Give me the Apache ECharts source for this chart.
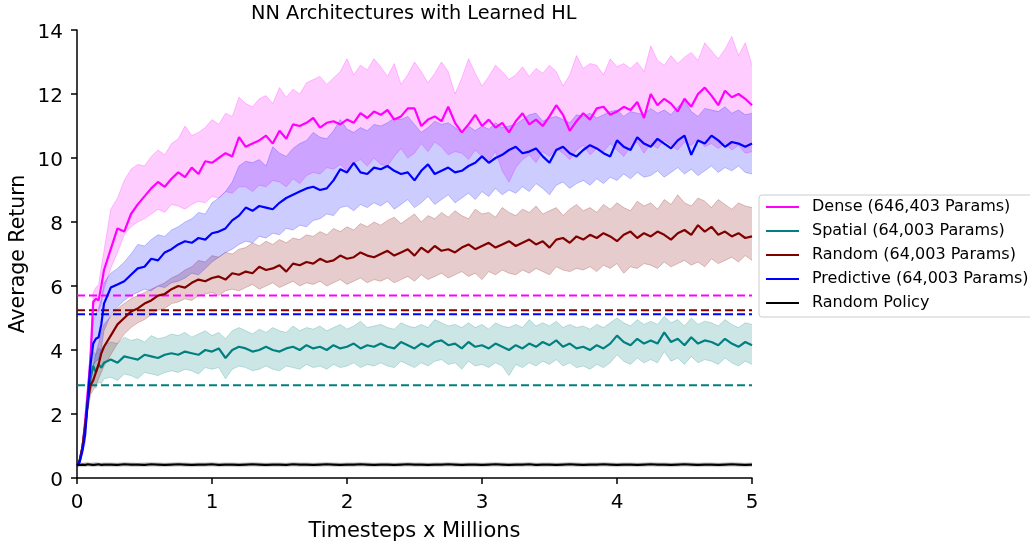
<!DOCTYPE html>
<html>
<head>
<meta charset="utf-8">
<script src="https://cdn.jsdelivr.net/npm/echarts@6/dist/echarts.min.js"></script>
<style>
html,body{margin:0;padding:0;background:#fff;}
#chart{width:1030px;height:542px;}
</style>
</head>
<body>
<div id="chart"></div>
<script>
// x positions (millions of timesteps)
const xs = [0,0.02,0.04,0.06,0.08,0.10,0.12,0.14,0.16,0.18,0.20,
0.25,0.30,0.35,0.40,0.45,0.50,0.55,0.60,0.65,0.70,
0.75,0.80,0.85,0.90,0.95,1.00,1.05,1.10,1.15,1.20,
1.25,1.30,1.35,1.40,1.45,1.50,1.55,1.60,1.65,1.70,
1.75,1.80,1.85,1.90,1.95,2.00,2.05,2.10,2.15,2.20,
2.25,2.30,2.35,2.40,2.45,2.50,2.55,2.60,2.65,2.70,
2.75,2.80,2.85,2.90,2.95,3.00,3.05,3.10,3.15,3.20,
3.25,3.30,3.35,3.40,3.45,3.50,3.55,3.60,3.65,3.70,
3.75,3.80,3.85,3.90,3.95,4.00,4.05,4.10,4.15,4.20,
4.25,4.30,4.35,4.40,4.45,4.50,4.55,4.60,4.65,4.70,
4.75,4.80,4.85,4.90,4.95,5.00];

const xTicks = [0,1,2,3,4,5];
const yTicks = [0,2,4,6,8,10,12,14];

const seriesNames = ['Dense (646,403 Params)','Spatial (64,003 Params)','Random (64,003 Params)','Predictive (64,003 Params)','Random Policy'];
const seriesColors = ['#ff00ff','#008080','#800000','#0000ff','#000000'];

const denseMean = [0.40,0.55,0.95,1.75,2.70,3.70,5.50,5.60,5.55,6.00,6.50,
7.15,7.80,7.70,8.25,8.55,8.80,9.05,9.25,9.10,9.35,
9.55,9.40,9.70,9.50,9.90,9.85,10.00,10.15,10.05,10.65,
10.35,10.45,10.55,10.70,10.45,10.85,10.60,11.05,11.00,11.10,
11.25,10.95,11.10,11.15,11.05,11.20,11.10,11.40,11.25,11.45,
11.35,11.50,11.20,11.30,11.55,11.55,11.00,11.20,11.30,11.15,
11.60,11.10,10.80,11.05,11.35,11.00,11.20,10.95,11.10,10.80,
11.15,11.40,11.05,11.20,11.00,11.30,11.65,11.35,10.85,11.15,
11.40,11.20,11.55,11.60,11.35,11.45,11.60,11.50,11.75,11.25,
12.00,11.65,11.85,11.70,11.45,11.85,11.60,12.00,12.20,11.95,
11.65,12.10,11.90,12.00,11.85,11.65];
const denseUpper = [0.40,0.60,1.05,1.95,2.95,4.10,5.80,5.95,6.05,6.60,7.10,
8.40,8.75,9.30,9.65,9.80,9.75,10.05,10.25,10.10,10.45,
10.60,11.00,10.70,10.80,10.95,11.20,11.05,11.40,11.30,11.90,
11.70,11.60,11.85,11.95,11.70,12.20,11.90,12.15,12.00,12.35,
12.45,12.55,12.30,12.50,12.70,13.10,12.60,12.90,12.75,13.10,
12.85,12.55,12.95,12.30,12.60,13.00,12.70,12.35,12.65,13.00,
12.70,12.00,12.50,13.10,12.65,12.25,12.55,12.90,12.70,12.45,
12.60,12.85,12.55,12.80,12.65,12.90,12.70,12.25,12.60,13.20,
12.80,12.95,12.90,12.60,13.10,12.85,12.95,12.80,13.00,12.70,
13.50,13.05,12.90,13.20,12.95,13.15,13.30,13.05,13.60,13.35,
13.10,13.40,13.80,13.20,13.60,12.90];
const denseLower = [0.40,0.50,0.85,1.55,2.45,3.30,5.20,5.30,5.20,5.45,5.90,
6.55,7.05,7.60,7.85,8.00,8.10,8.25,8.40,8.30,8.55,
8.50,8.40,8.55,8.65,8.60,8.80,8.75,8.95,8.90,9.10,
9.10,8.95,9.15,9.10,9.30,9.25,9.10,9.35,9.20,9.45,
9.55,9.50,9.70,9.65,9.80,9.60,9.85,9.95,9.75,10.00,
9.80,9.75,10.05,10.30,10.00,10.15,10.45,10.20,10.50,10.35,
10.10,10.20,10.15,9.95,10.25,10.05,9.90,10.20,9.60,9.25,
9.70,9.95,10.10,9.85,10.20,10.05,10.30,10.15,9.95,10.25,
10.40,10.10,10.30,10.20,10.45,10.25,10.05,10.35,10.50,10.15,
10.45,10.30,10.55,10.40,10.25,10.50,10.40,10.60,10.35,10.45,
10.30,10.45,10.25,10.40,10.15,10.20];

const spatialMean = [0.40,0.55,0.95,1.60,2.40,3.10,3.50,3.30,3.55,3.45,3.60,
3.70,3.60,3.80,3.75,3.70,3.85,3.80,3.75,3.85,3.90,
3.85,3.95,3.90,3.85,4.00,3.95,4.05,3.75,4.00,4.10,
4.05,3.95,4.00,4.10,4.00,3.95,4.05,4.10,4.00,4.15,
4.05,4.10,4.00,4.15,4.05,4.10,4.20,4.05,4.15,4.10,
4.20,4.10,4.05,4.25,4.15,4.05,4.20,4.10,4.25,4.30,
4.15,4.20,4.05,4.25,4.10,4.15,4.05,4.20,4.10,4.00,
4.15,4.05,4.20,4.10,4.25,4.15,4.30,4.10,4.20,4.05,
4.10,4.00,4.15,4.05,4.20,4.45,4.25,4.15,4.35,4.20,
4.30,4.20,4.55,4.25,4.35,4.15,4.40,4.20,4.30,4.25,
4.15,4.35,4.20,4.10,4.25,4.15];
const spatialUpper = [0.40,0.60,1.05,1.80,2.70,3.60,3.95,3.85,4.05,4.00,4.15,
4.25,4.20,4.40,4.30,4.35,4.25,4.45,4.35,4.40,4.50,
4.45,4.55,4.40,4.50,4.60,4.45,4.55,4.35,4.60,4.70,
4.60,4.50,4.65,4.55,4.70,4.60,4.55,4.75,4.60,4.70,
4.65,4.75,4.60,4.70,4.80,4.65,4.75,4.90,4.70,4.75,
4.80,4.70,4.65,4.85,4.75,4.70,4.80,4.70,4.95,4.85,
4.75,4.80,4.70,4.85,4.70,4.80,4.65,4.85,4.75,4.70,
4.80,4.70,4.95,4.75,4.85,4.75,4.90,4.70,4.80,4.70,
4.75,4.65,4.80,4.70,4.85,5.00,4.85,4.75,4.95,4.80,
4.90,4.80,5.05,4.85,4.95,4.75,5.00,4.80,4.90,4.85,
4.75,4.95,4.80,4.70,4.85,4.80];
const spatialLower = [0.40,0.50,0.85,1.40,2.10,2.70,2.95,2.80,3.00,2.95,3.10,
3.15,3.05,3.25,3.20,3.10,3.30,3.25,3.20,3.30,3.35,
3.30,3.40,3.35,3.25,3.45,3.40,3.45,3.10,3.40,3.50,
3.45,3.35,3.40,3.50,3.40,3.35,3.50,3.45,3.40,3.55,
3.45,3.50,3.40,3.55,3.45,3.50,3.60,3.45,3.55,3.50,
3.60,3.50,3.45,3.65,3.55,3.45,3.60,3.50,3.65,3.70,
3.55,3.60,3.40,3.65,3.50,3.55,3.45,3.60,3.50,3.20,
3.55,3.45,3.60,3.50,3.65,3.55,3.70,3.50,3.60,3.45,
3.50,3.40,3.55,3.45,3.60,3.85,3.65,3.55,3.75,3.60,
3.70,3.60,3.95,3.65,3.75,3.55,3.80,3.60,3.70,3.65,
3.55,3.75,3.60,3.50,3.65,3.55];

const randomMean = [0.40,0.55,0.95,1.60,2.40,2.90,3.05,3.30,3.55,3.90,4.10,
4.45,4.80,5.00,5.20,5.30,5.45,5.55,5.70,5.75,5.90,
6.00,5.95,6.10,6.20,6.15,6.25,6.30,6.20,6.40,6.35,
6.45,6.40,6.60,6.50,6.55,6.65,6.45,6.70,6.65,6.75,
6.70,6.85,6.75,6.80,6.95,6.85,6.90,7.05,6.95,6.90,
7.00,7.10,6.95,7.05,7.15,6.95,7.20,7.05,7.25,7.10,
7.15,7.05,7.20,7.30,7.15,7.25,7.35,7.20,7.30,7.40,
7.25,7.35,7.45,7.30,7.40,7.20,7.45,7.50,7.35,7.55,
7.45,7.60,7.50,7.65,7.55,7.40,7.60,7.70,7.50,7.65,
7.55,7.70,7.60,7.45,7.65,7.75,7.60,7.90,7.70,7.85,
7.60,7.70,7.55,7.65,7.50,7.55];
const randomUpper = [0.40,0.60,1.05,1.80,2.70,3.25,3.50,3.90,4.20,4.55,4.80,
5.05,5.30,5.45,5.60,5.70,5.80,5.90,6.00,6.10,6.25,
6.35,6.50,6.60,6.80,6.75,6.95,6.90,7.05,7.00,7.15,
7.20,7.35,7.25,7.40,7.30,7.45,7.35,7.50,7.45,7.60,
7.55,7.70,7.60,7.80,7.70,7.85,7.75,7.95,7.85,8.00,
7.90,8.05,8.15,7.95,8.10,8.25,8.00,8.20,8.10,8.30,
8.15,8.35,8.20,8.10,8.40,8.25,8.30,8.15,8.45,8.30,
8.20,8.40,8.30,8.50,8.25,8.35,8.45,8.20,8.40,8.55,
8.35,8.45,8.30,8.55,8.40,8.60,8.45,8.35,8.65,8.50,
8.60,8.40,8.70,8.55,8.85,8.60,8.50,8.75,8.65,8.45,
8.70,8.55,8.40,8.60,8.50,8.45];
const randomLower = [0.40,0.50,0.85,1.40,2.10,2.60,2.75,2.90,3.10,3.30,3.50,
3.85,4.20,4.50,4.70,4.85,4.95,5.10,5.25,5.30,5.45,
5.50,5.60,5.55,5.70,5.75,5.80,5.70,5.85,5.90,5.85,
5.95,6.05,5.90,6.00,6.10,5.95,6.05,6.15,6.00,6.10,
6.05,6.15,6.00,6.10,6.20,6.05,6.15,6.25,6.10,6.20,
6.15,6.25,6.10,6.20,6.30,6.15,6.35,6.20,6.30,6.40,
6.25,6.35,6.45,6.30,6.40,6.20,6.45,6.35,6.50,6.40,
6.35,6.50,6.40,6.55,6.45,6.35,6.60,6.50,6.45,6.55,
6.50,6.60,6.45,6.65,6.55,6.70,6.40,6.60,6.55,6.70,
6.65,6.55,6.75,6.60,6.70,6.80,6.65,6.75,6.60,6.85,
6.70,6.80,6.90,6.75,6.95,6.80];

const predictiveMean = [0.40,0.50,0.85,1.35,2.45,3.55,4.20,4.35,4.40,4.80,5.45,
5.95,6.05,6.15,6.35,6.55,6.60,6.85,6.80,7.05,7.15,
7.30,7.40,7.35,7.50,7.45,7.65,7.70,7.80,8.05,8.20,
8.45,8.35,8.50,8.45,8.40,8.60,8.75,8.85,8.95,9.05,
9.10,9.00,9.05,9.30,9.65,9.55,9.85,9.55,9.50,9.70,
9.65,9.75,9.60,9.50,9.55,9.30,9.60,9.80,9.50,9.60,
9.70,9.55,9.60,9.75,9.85,10.05,9.85,10.00,10.10,10.25,
10.35,10.15,10.20,10.30,10.05,9.85,10.25,10.35,10.15,10.05,
10.25,10.40,10.30,10.15,10.05,10.55,10.35,10.25,10.65,10.45,
10.35,10.60,10.45,10.30,10.55,10.70,10.10,10.55,10.45,10.70,
10.55,10.35,10.50,10.45,10.35,10.45];
const predictiveUpper = [0.40,0.55,0.95,1.60,2.75,4.10,4.90,5.15,5.30,5.60,6.10,
6.40,6.55,6.75,7.00,7.30,7.25,7.45,7.60,7.55,7.75,
7.85,8.00,8.10,8.30,8.25,8.60,8.75,8.95,9.25,9.75,
9.90,9.85,9.95,9.75,10.35,10.15,10.05,10.30,10.45,10.55,
10.80,10.65,10.60,10.85,11.20,10.90,10.80,10.95,10.85,11.05,
11.00,11.10,11.25,11.20,11.30,11.05,10.80,10.95,11.15,11.05,
11.10,10.95,10.80,11.00,10.85,11.00,10.90,11.10,10.95,11.00,
11.05,11.20,11.35,11.40,11.15,11.25,11.30,11.20,11.10,11.35,
11.30,11.40,11.25,11.35,11.45,11.50,11.30,11.45,11.40,11.35,
11.55,11.40,11.50,11.35,11.60,11.80,11.45,11.30,11.55,11.50,
11.45,11.60,11.40,11.50,11.35,11.40];
const predictiveLower = [0.40,0.45,0.75,1.10,2.15,3.00,3.50,3.65,3.70,4.05,4.60,
5.10,5.35,5.55,5.70,5.80,5.90,5.85,6.00,5.95,6.10,
6.15,6.25,6.40,6.35,6.55,6.75,6.90,7.05,7.15,7.30,
7.40,7.35,7.55,7.50,7.65,7.60,7.80,7.75,7.90,7.85,
8.05,8.10,8.25,8.20,8.45,8.50,8.35,8.55,8.45,8.60,
8.50,8.65,8.40,8.55,8.70,8.45,8.60,8.80,8.55,8.70,
8.85,8.60,8.75,8.90,8.70,8.95,8.80,9.05,8.85,9.00,
8.90,9.10,8.95,9.20,9.05,8.85,9.15,9.25,9.05,9.20,
9.30,9.15,9.35,9.20,9.40,9.30,9.50,9.35,9.55,9.40,
9.45,9.60,9.40,9.55,9.70,9.50,9.65,9.45,9.60,9.75,
9.55,9.70,9.60,9.75,9.55,9.50];

const policyMean = [0.40,0.41,0.42,0.41,0.43,0.42,0.41,0.42,0.43,0.41,0.42,
0.42,0.41,0.43,0.42,0.42,0.41,0.43,0.42,0.41,0.42,
0.43,0.42,0.41,0.42,0.42,0.43,0.41,0.42,0.42,0.41,
0.42,0.43,0.42,0.41,0.42,0.42,0.41,0.43,0.42,0.42,
0.41,0.42,0.43,0.42,0.41,0.42,0.42,0.43,0.42,0.41,
0.42,0.42,0.41,0.42,0.43,0.42,0.42,0.41,0.42,0.42,
0.43,0.42,0.41,0.42,0.42,0.41,0.42,0.43,0.42,0.41,
0.42,0.42,0.43,0.41,0.42,0.42,0.41,0.42,0.43,0.42,
0.41,0.42,0.42,0.43,0.42,0.41,0.42,0.42,0.41,0.42,
0.43,0.42,0.42,0.41,0.42,0.43,0.42,0.41,0.42,0.42,
0.41,0.42,0.43,0.42,0.41,0.42];
const policyUpper = [0.46,0.48,0.47,0.48,0.49,0.47,0.48,0.49,0.48,0.47,0.48,
0.48,0.47,0.49,0.48,0.47,0.48,0.49,0.48,0.47,0.48,
0.49,0.48,0.47,0.48,0.48,0.49,0.47,0.48,0.48,0.47,
0.48,0.49,0.48,0.47,0.48,0.48,0.47,0.49,0.48,0.48,
0.47,0.48,0.49,0.48,0.47,0.48,0.48,0.49,0.48,0.47,
0.48,0.48,0.47,0.48,0.49,0.48,0.48,0.47,0.48,0.48,
0.49,0.48,0.47,0.48,0.48,0.47,0.48,0.49,0.48,0.47,
0.48,0.48,0.49,0.47,0.48,0.48,0.47,0.48,0.49,0.48,
0.47,0.48,0.48,0.49,0.48,0.47,0.48,0.48,0.47,0.48,
0.49,0.48,0.48,0.47,0.48,0.49,0.48,0.47,0.48,0.48,
0.47,0.48,0.49,0.48,0.47,0.48];
const policyLower = [0.34,0.35,0.36,0.35,0.37,0.36,0.35,0.36,0.37,0.35,0.36,
0.36,0.35,0.37,0.36,0.36,0.35,0.37,0.36,0.35,0.36,
0.37,0.36,0.35,0.36,0.36,0.37,0.35,0.36,0.36,0.35,
0.36,0.37,0.36,0.35,0.36,0.36,0.35,0.37,0.36,0.36,
0.35,0.36,0.37,0.36,0.35,0.36,0.36,0.37,0.36,0.35,
0.36,0.36,0.35,0.36,0.37,0.36,0.36,0.35,0.36,0.36,
0.37,0.36,0.35,0.36,0.36,0.35,0.36,0.37,0.36,0.35,
0.36,0.36,0.37,0.35,0.36,0.36,0.35,0.36,0.37,0.36,
0.35,0.36,0.36,0.37,0.36,0.35,0.36,0.36,0.35,0.36,
0.37,0.36,0.36,0.35,0.36,0.37,0.36,0.35,0.36,0.36,
0.35,0.36,0.37,0.36,0.35,0.36];

// dashed reference levels (Dense, Spatial, Random, Predictive)
const baselineValues = [5.70, 2.90, 5.24, 5.12];
const baselineColors = ['#ff00ff','#008080','#800000','#0000ff'];
const baselineRange = [0, 5];

const means = [denseMean, spatialMean, randomMean, predictiveMean, policyMean];
const uppers = [denseUpper, spatialUpper, randomUpper, predictiveUpper, policyUpper];
const lowers = [denseLower, spatialLower, randomLower, predictiveLower, policyLower];

function rgba(hex, a) {
  const r = parseInt(hex.slice(1,3),16), g = parseInt(hex.slice(3,5),16), b = parseInt(hex.slice(5,7),16);
  return 'rgba(' + r + ',' + g + ',' + b + ',' + a + ')';
}

const FONT = 'DejaVu Sans';
const series = [];
// shaded bands (custom polygons positioned through the axes' scales)
means.forEach(function (m, k) {
  const c = seriesColors[k];
  const isPolicy = k === 4;
  const lo = lowers[k], hi = uppers[k];
  series.push({
    type: 'custom', name: 'band_' + k, silent: true, z: 1,
    clip: true,
    data: xs.map(function (x, i) { return [x, lo[i], hi[i]]; }),
    encode: { x: 0, y: [1, 2] },
    renderItem: function (params, api) {
      if (params.dataIndex !== 0) return;
      const top = xs.map(function (x, i) { return api.coord([x, hi[i]]); });
      const bot = xs.map(function (x, i) { return api.coord([x, lo[i]]); });
      const poly = top.concat(bot.slice().reverse());
      return {
        type: 'group',
        children: [
          { type: 'polygon', shape: { points: poly }, style: { fill: rgba(c, isPolicy ? 0.15 : 0.2), stroke: null } },
          { type: 'polyline', shape: { points: top }, style: { fill: null, stroke: rgba(c, isPolicy ? 0.1 : 0.22), lineWidth: 1 } },
          { type: 'polyline', shape: { points: bot }, style: { fill: null, stroke: rgba(c, isPolicy ? 0.1 : 0.22), lineWidth: 1 } }
        ]
      };
    }
  });
});
// dashed baselines
baselineValues.forEach(function (v, k) {
  series.push({
    type: 'line', name: 'base_' + k, symbol: 'none', silent: true,
    data: baselineRange.map(function (x) { return [x, v]; }),
    lineStyle: { color: baselineColors[k], width: 2, type: [8, 4] }, z: 2
  });
});
// mean lines
means.forEach(function (m, k) {
  series.push({
    type: 'line', name: seriesNames[k], symbol: 'none', showSymbol: false,
    data: xs.map(function (x, i) { return [x, m[i]]; }),
    lineStyle: { color: seriesColors[k], width: 2.2 }, itemStyle: { color: seriesColors[k] }, z: 3
  });
});

const chart = echarts.init(document.getElementById('chart'), null, { renderer: 'canvas' });
chart.setOption({
  animation: false,
  backgroundColor: '#ffffff',
  title: {
    text: 'NN Architectures with Learned HL',
    left: 251, top: 4, padding: 0,
    textStyle: { fontFamily: FONT, fontSize: 19.3, fontWeight: 'normal', color: '#000' }
  },
  legend: {
    data: seriesNames,
    orient: 'vertical', left: 759, top: 195,
    padding: [4, 8, 6, 7], itemGap: 8,
    itemWidth: 33, itemHeight: 2, icon: 'rect',
    backgroundColor: 'rgba(255,255,255,0.8)', borderColor: '#cccccc', borderWidth: 1, borderRadius: 3,
    textStyle: { fontFamily: FONT, fontSize: 16, color: '#000', lineHeight: 16, padding: [0, 0, 0, 8] }
  },
  grid: { left: 77, right: 278, top: 30, bottom: 64, containLabel: false, outerBoundsMode: 'none' },
  xAxis: {
    type: 'value', min: xTicks[0], max: xTicks[xTicks.length - 1], interval: 1,
    name: 'Timesteps x Millions', nameLocation: 'middle', nameGap: 43,
    nameTextStyle: { fontFamily: FONT, fontSize: 21, color: '#000' },
    axisLine: { show: true, onZero: false, lineStyle: { color: '#000', width: 1.5 } },
    axisTick: { show: true, length: 6, lineStyle: { color: '#000', width: 1.5 } },
    axisLabel: { fontFamily: FONT, fontSize: 20, color: '#000', margin: 15 },
    splitLine: { show: false }
  },
  yAxis: {
    type: 'value', min: yTicks[0], max: yTicks[yTicks.length - 1], interval: 2,
    name: 'Average Return', nameLocation: 'middle', nameGap: 48, nameMoveOverlap: false,
    nameTextStyle: { fontFamily: FONT, fontSize: 20.5, color: '#000' },
    axisLine: { show: true, lineStyle: { color: '#000', width: 1.5 } },
    axisTick: { show: true, length: 6, lineStyle: { color: '#000', width: 1.5 } },
    axisLabel: {
      color: '#000', margin: 14,
      formatter: '{v|{value}}',
      rich: { v: { fontFamily: FONT, fontSize: 20, color: '#000', padding: [6, 0, 0, 0] } }
    },
    splitLine: { show: false }
  },
  series: series
});
</script>
</body>
</html>
